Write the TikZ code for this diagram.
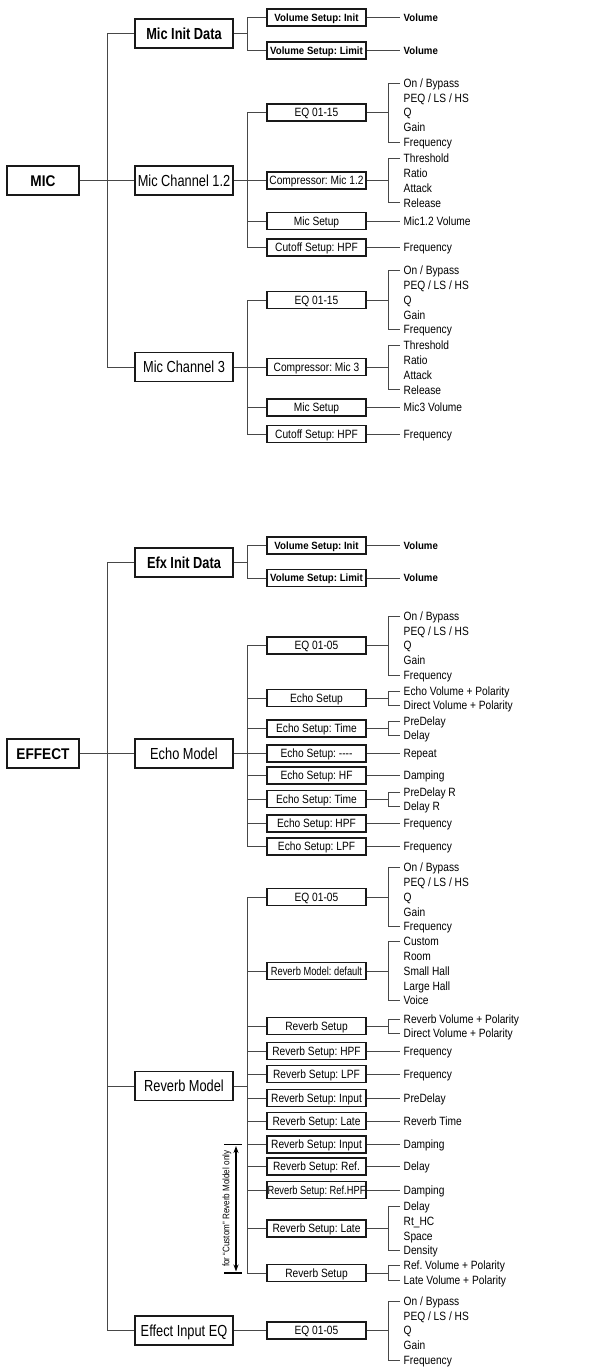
\documentclass[tikz,border=0pt]{standalone}
\usepackage{fontspec}
\usetikzlibrary{arrows.meta}
\frenchspacing
\newfontfamily\fsmfam[FakeStretch=0.85]{Liberation Sans}
\newfontfamily\fnarfam[FakeStretch=0.79]{Liberation Sans}
\newfontfamily\fbgfam[FakeStretch=0.80]{Liberation Sans}
\newfontfamily\fhdfam[FakeStretch=0.88]{Liberation Sans}
\newfontfamily\fvsfam[FakeStretch=0.92]{Liberation Sans}
\newcommand\fsm{\fsmfam\fontsize{12}{14}\selectfont}
\newcommand\fnar{\fnarfam\fontsize{11.8}{14}\selectfont}
\newcommand\fbg{\fbgfam\fontsize{16}{19}\selectfont}
\newcommand\fib{\fbgfam\bfseries\fontsize{16}{19}\selectfont}
\newcommand\fhd{\fhdfam\bfseries\fontsize{15.5}{18}\selectfont}
\newcommand\fvs{\fvsfam\bfseries\fontsize{10.5}{12}\selectfont}
\newcommand\fnote{\fsmfam\fontsize{9.5}{11}\selectfont}
\newcommand\cone[2]{\draw[conn] (#1.east) -- (#2.west);}
\newcommand\cbrk[3]{\draw[conn] (#1.east) -- (#1.east -| X); \draw[conn] (#2.west) -- (#2.west -| X) -- (#3.west -| X) -- (#3.west);}
\newcommand\cpar[4]{\draw[conn] (#1.east) -- (#1.east -| #4); \draw[conn] (#2.west -| #4) -- (#3.west -| #4);}
\newcommand\ckid[2]{\draw[conn] (#2.west -| #1) -- (#2.west);}
\begin{document}
\begin{tikzpicture}[x=1pt,y=-1pt,
 conn/.style={draw=black!72,line width=1pt},
 sbox/.style={draw=black!90,line width=1.1pt,minimum width=99pt,minimum height=17pt,inner sep=0pt,text height=8.6pt,text depth=0pt,font=\fsm},
 vbox/.style={sbox,font=\fvs,text height=7.6pt},
 nbox/.style={sbox,font=\fnar},
 bbox/.style={draw=black!90,line width=1.2pt,minimum width=98pt,minimum height=29pt,inner sep=0pt,text height=11.5pt,text depth=0pt,font=\fbg},
 ibox/.style={bbox,font=\fib},
 hdbox/.style={draw=black!90,line width=1.4pt,minimum width=72pt,minimum height=29pt,inner sep=0pt,text height=11.1pt,text depth=0pt,font=\fhd},
 leaf/.style={anchor=west,inner xsep=3.5pt,inner ysep=0pt,text height=8.6pt,text depth=0pt,font=\fsm},
 vleaf/.style={leaf,font=\fvs,text height=7.6pt},
]
\useasboundingbox (0,0) rectangle (603,1368);
\coordinate (T) at (107,0);
\coordinate (B) at (247,0);
\coordinate (X) at (388,0);
\coordinate (NX) at (236,0);
\coordinate (NL) at (224,0);
\coordinate (NR) at (242,0);

% ================= MIC =================
\node[hdbox] (mic) at (43,180.5) {MIC};
\node[ibox] (mid) at (184,33.5) {Mic Init Data};
\node[bbox] (mc12) at (184,180.5) {Mic Channel 1.2};
\node[bbox] (mc3) at (184,367) {Mic Channel 3};

\node[vbox] (m1) at (316.5,17.5) {Volume Setup: Init};
\node[vbox] (m2) at (316.5,50.5) {Volume Setup: Limit};
\node[vleaf] (m1a) at (400,17.5) {Volume};
\node[vleaf] (m2a) at (400,50.5) {Volume};

\node[sbox] (a1) at (316.5,112.5) {EQ 01-15};
\node[leaf] (a1a) at (400,83) {On / Bypass};
\node[leaf] (a1b) at (400,97.75) {PEQ / LS / HS};
\node[leaf] (a1c) at (400,112.5) {Q};
\node[leaf] (a1d) at (400,127.25) {Gain};
\node[leaf] (a1e) at (400,142) {Frequency};
\node[sbox] (a2) at (316.5,180.5) {Compressor: Mic 1.2};
\node[leaf] (a2a) at (400,158.5) {Threshold};
\node[leaf] (a2b) at (400,173.25) {Ratio};
\node[leaf] (a2c) at (400,188) {Attack};
\node[leaf] (a2d) at (400,202.75) {Release};
\node[sbox] (a3) at (316.5,221) {Mic Setup};
\node[leaf] (a3a) at (400,221) {Mic1.2 Volume};
\node[sbox] (a4) at (316.5,247.5) {Cutoff Setup: HPF};
\node[leaf] (a4a) at (400,247.5) {Frequency};

\node[sbox] (b1) at (316.5,300) {EQ 01-15};
\node[leaf] (b1a) at (400,270.5) {On / Bypass};
\node[leaf] (b1b) at (400,285.25) {PEQ / LS / HS};
\node[leaf] (b1c) at (400,300) {Q};
\node[leaf] (b1d) at (400,314.75) {Gain};
\node[leaf] (b1e) at (400,329.5) {Frequency};
\node[sbox] (b2) at (316.5,367) {Compressor: Mic 3};
\node[leaf] (b2a) at (400,345.5) {Threshold};
\node[leaf] (b2b) at (400,360.25) {Ratio};
\node[leaf] (b2c) at (400,375) {Attack};
\node[leaf] (b2d) at (400,389.75) {Release};
\node[sbox] (b3) at (316.5,407.5) {Mic Setup};
\node[leaf] (b3a) at (400,407.5) {Mic3 Volume};
\node[sbox] (b4) at (316.5,434) {Cutoff Setup: HPF};
\node[leaf] (b4a) at (400,434) {Frequency};

% MIC connectors
\cpar{mic}{mid}{mc3}{T}
\ckid{T}{mid} \ckid{T}{mc12} \ckid{T}{mc3}
\cpar{mid}{m1}{m2}{B}
\ckid{B}{m1} \ckid{B}{m2}
\cone{m1}{m1a} \cone{m2}{m2a}
\cpar{mc12}{a1}{a4}{B}
\ckid{B}{a1} \ckid{B}{a2} \ckid{B}{a3} \ckid{B}{a4}
\cbrk{a1}{a1a}{a1e} \cbrk{a2}{a2a}{a2d}
\cone{a3}{a3a} \cone{a4}{a4a}
\cpar{mc3}{b1}{b4}{B}
\ckid{B}{b1} \ckid{B}{b2} \ckid{B}{b3} \ckid{B}{b4}
\cbrk{b1}{b1a}{b1e} \cbrk{b2}{b2a}{b2d}
\cone{b3}{b3a} \cone{b4}{b4a}

% ================= EFFECT =================
\node[hdbox] (eff) at (43,753.5) {EFFECT};
\node[ibox] (eid) at (184,562.5) {Efx Init Data};
\node[bbox] (echo) at (184,753.5) {Echo Model};
\node[bbox] (rev) at (184,1086) {Reverb Model};
\node[bbox] (eie) at (184,1330.5) {Effect Input EQ};

\node[vbox] (n1) at (316.5,545.5) {Volume Setup: Init};
\node[vbox] (n2) at (316.5,578) {Volume Setup: Limit};
\node[vleaf] (n1a) at (400,545.5) {Volume};
\node[vleaf] (n2a) at (400,578) {Volume};

\node[sbox] (c1) at (316.5,645.5) {EQ 01-05};
\node[leaf] (c1a) at (400,616) {On / Bypass};
\node[leaf] (c1b) at (400,630.75) {PEQ / LS / HS};
\node[leaf] (c1c) at (400,645.5) {Q};
\node[leaf] (c1d) at (400,660.25) {Gain};
\node[leaf] (c1e) at (400,675) {Frequency};
\node[sbox] (c2) at (316.5,698) {Echo Setup};
\node[leaf] (c2a) at (400,691) {Echo Volume + Polarity};
\node[leaf] (c2b) at (400,705) {Direct Volume + Polarity};
\node[sbox] (c3) at (316.5,728.5) {Echo Setup: Time};
\node[leaf] (c3a) at (400,721.5) {PreDelay};
\node[leaf] (c3b) at (400,735.5) {Delay};
\node[sbox] (c4) at (316.5,753.5) {Echo Setup: ----};
\node[leaf] (c4a) at (400,753.5) {Repeat};
\node[sbox] (c5) at (316.5,775.5) {Echo Setup: HF};
\node[leaf] (c5a) at (400,775.5) {Damping};
\node[sbox] (c6) at (316.5,799) {Echo Setup: Time};
\node[leaf] (c6a) at (400,792) {PreDelay R};
\node[leaf] (c6b) at (400,806) {Delay R};
\node[sbox] (c7) at (316.5,823.5) {Echo Setup: HPF};
\node[leaf] (c7a) at (400,823.5) {Frequency};
\node[sbox] (c8) at (316.5,846.5) {Echo Setup: LPF};
\node[leaf] (c8a) at (400,846.5) {Frequency};

\node[sbox] (d1) at (316.5,897) {EQ 01-05};
\node[leaf] (d1a) at (400,867.5) {On / Bypass};
\node[leaf] (d1b) at (400,882.25) {PEQ / LS / HS};
\node[leaf] (d1c) at (400,897) {Q};
\node[leaf] (d1d) at (400,911.75) {Gain};
\node[leaf] (d1e) at (400,926.5) {Frequency};
\node[nbox] (d2) at (316.5,971) {Reverb Model: default};
\node[leaf] (d2a) at (400,941.5) {Custom};
\node[leaf] (d2b) at (400,956.25) {Room};
\node[leaf] (d2c) at (400,971) {Small Hall};
\node[leaf] (d2d) at (400,985.75) {Large Hall};
\node[leaf] (d2e) at (400,1000.5) {Voice};
\node[sbox] (d3) at (316.5,1026) {Reverb Setup};
\node[leaf] (d3a) at (400,1019) {Reverb Volume + Polarity};
\node[leaf] (d3b) at (400,1033) {Direct Volume + Polarity};
\node[sbox] (d4) at (316.5,1051) {Reverb Setup: HPF};
\node[leaf] (d4a) at (400,1051) {Frequency};
\node[sbox] (d5) at (316.5,1074) {Reverb Setup: LPF};
\node[leaf] (d5a) at (400,1074) {Frequency};
\node[sbox] (d6) at (316.5,1098) {Reverb Setup: Input};
\node[leaf] (d6a) at (400,1098) {PreDelay};
\node[sbox] (d7) at (316.5,1121) {Reverb Setup: Late};
\node[leaf] (d7a) at (400,1121) {Reverb Time};
\node[sbox] (d8) at (316.5,1144.5) {Reverb Setup: Input};
\node[leaf] (d8a) at (400,1144.5) {Damping};
\node[sbox] (d9) at (316.5,1166.5) {Reverb Setup: Ref.};
\node[leaf] (d9a) at (400,1166.5) {Delay};
\node[nbox] (d10) at (316.5,1190) {Reverb Setup: Ref.HPF};
\node[leaf] (d10a) at (400,1190) {Damping};
\node[sbox] (d11) at (316.5,1228.5) {Reverb Setup: Late};
\node[leaf] (d11a) at (400,1206.4) {Delay};
\node[leaf] (d11b) at (400,1221.1) {Rt\_HC};
\node[leaf] (d11c) at (400,1235.9) {Space};
\node[leaf] (d11d) at (400,1250.6) {Density};
\node[sbox] (d12) at (316.5,1273) {Reverb Setup};
\node[leaf] (d12a) at (400,1265.5) {Ref. Volume + Polarity};
\node[leaf] (d12b) at (400,1280.5) {Late Volume + Polarity};

\node[sbox] (e1) at (316.5,1330.5) {EQ 01-05};
\node[leaf] (e1a) at (400,1301) {On / Bypass};
\node[leaf] (e1b) at (400,1315.75) {PEQ / LS / HS};
\node[leaf] (e1c) at (400,1330.5) {Q};
\node[leaf] (e1d) at (400,1345.25) {Gain};
\node[leaf] (e1e) at (400,1360) {Frequency};

% EFFECT connectors
\cpar{eff}{eid}{eie}{T}
\ckid{T}{eid} \ckid{T}{echo} \ckid{T}{rev} \ckid{T}{eie}
\cpar{eid}{n1}{n2}{B}
\ckid{B}{n1} \ckid{B}{n2}
\cone{n1}{n1a} \cone{n2}{n2a}
\cpar{echo}{c1}{c8}{B}
\ckid{B}{c1} \ckid{B}{c2} \ckid{B}{c3} \ckid{B}{c4}
\ckid{B}{c5} \ckid{B}{c6} \ckid{B}{c7} \ckid{B}{c8}
\cbrk{c1}{c1a}{c1e} \cbrk{c2}{c2a}{c2b} \cbrk{c3}{c3a}{c3b}
\cone{c4}{c4a} \cone{c5}{c5a}
\cbrk{c6}{c6a}{c6b}
\cone{c7}{c7a} \cone{c8}{c8a}
\cpar{rev}{d1}{d12}{B}
\ckid{B}{d1} \ckid{B}{d2} \ckid{B}{d3} \ckid{B}{d4} \ckid{B}{d5} \ckid{B}{d6}
\ckid{B}{d7} \ckid{B}{d8} \ckid{B}{d9} \ckid{B}{d10} \ckid{B}{d11} \ckid{B}{d12}
\cbrk{d1}{d1a}{d1e} \cbrk{d2}{d2a}{d2e} \cbrk{d3}{d3a}{d3b}
\cone{d4}{d4a} \cone{d5}{d5a} \cone{d6}{d6a} \cone{d7}{d7a}
\cone{d8}{d8a} \cone{d9}{d9a} \cone{d10}{d10a}
\cbrk{d11}{d11a}{d11d} \cbrk{d12}{d12a}{d12b}
\cone{eie}{e1}
\cbrk{e1}{e1a}{e1e}

% annotation
\node[rotate=90,font=\fnote,inner sep=0pt] (note) at (227,1208.75) {for “Custom” Reverb Moldel only};
\draw[line width=1.2pt] (d8.west -| NL) -- (d8.west -| NR);
\draw[line width=1.2pt] (d12.west -| NL) -- (d12.west -| NR);
\draw[line width=1.3pt,{Stealth[length=7pt,width=5pt]}-{Stealth[length=7pt,width=5pt]},shorten <=1.5pt,shorten >=1.5pt] (d8.west -| NX) -- (d12.west -| NX);
\end{tikzpicture}
\end{document}
